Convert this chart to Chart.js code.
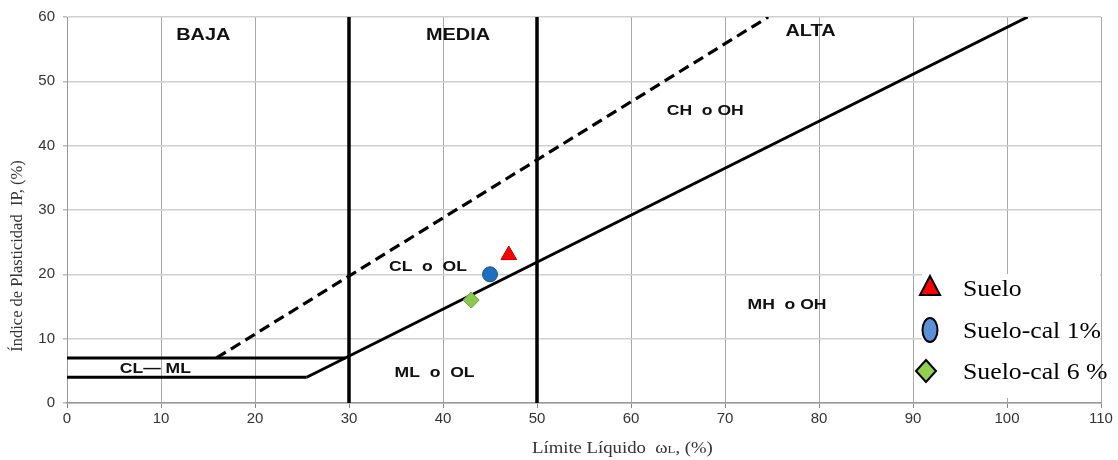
<!DOCTYPE html>
<html>
<head>
<meta charset="utf-8">
<script src="https://cdn.jsdelivr.net/npm/chart.js@4"></script>
<style>
  html, body { margin: 0; padding: 0; background: #fff; }
  #wrap { width: 1118px; height: 460px; }
</style>
</head>
<body>
<div id="wrap"><canvas id="carta"></canvas></div>
<script>
// Ejes
const xTicks = [0, 10, 20, 30, 40, 50, 60, 70, 80, 90, 100, 110];
const yTicks = [0, 10, 20, 30, 40, 50, 60];

// Líneas de la carta (extremos)
const lineaA = [{x: 25.5, y: 4}, {x: 102.2, y: 60}];
const lineaU = [{x: 15.9, y: 7}, {x: 74.6, y: 60}];
const linea7 = [{x: 0, y: 7}, {x: 29.6, y: 7}];
const linea4 = [{x: 0, y: 4}, {x: 25.5, y: 4}];
const limite30 = [{x: 30, y: 0}, {x: 30, y: 60}];
const limite50 = [{x: 50, y: 0}, {x: 50, y: 60}];

// Muestras
const muestras = ['Suelo', 'Suelo-cal 1%', 'Suelo-cal 6 %'];
const limiteLiquido = [47, 45, 43];
const indicePlasticidad = [23, 20, 16];

// Rótulos de zonas
const zonas = ['BAJA', 'MEDIA', 'ALTA', 'CH  o OH', 'CL  o  OL', 'MH  o OH', 'ML  o  OL', 'CL\u2014 ML'];
const zonasX = [14.5, 41.6, 79.1, 67.9, 38.4, 76.6, 39.1, 9.4];
const zonasY = [57.2, 57.2, 57.7, 45.4, 21.2, 15.2, 4.7, 5.3];
const zonasTam = [17, 17, 17, 15, 15, 15, 15, 15];

const SERIF = '"Liberation Serif", "Times New Roman", serif';
const SANS = '"Liberation Sans", Arial, sans-serif';
const ANCHO = 1.17; // letra algo ensanchada

const recta = (data, extra) => Object.assign({
  type: 'line', data, borderColor: '#000', borderWidth: 3,
  pointRadius: 0, fill: false, tension: 0, order: 2
}, extra || {});

const estilos = [
  {pointStyle: 'triangle', radius: 9, bg: '#ff0000', border: '#c00000'},
  {pointStyle: 'circle', radius: 7.5, bg: '#1f6fc0', border: '#1a4f8a'},
  {pointStyle: 'rectRot', radius: 8, bg: '#8cc850', border: '#6aa038'}
];

const puntos = muestras.map((m, i) => ({
  type: 'scatter',
  label: m,
  data: [{x: limiteLiquido[i], y: indicePlasticidad[i]}],
  pointStyle: estilos[i].pointStyle,
  pointRadius: estilos[i].radius,
  backgroundColor: estilos[i].bg,
  borderColor: estilos[i].border,
  borderWidth: 1,
  order: 1
}));

function texto(ctx, t, x, y, font, align, ancho) {
  ctx.save();
  ctx.translate(x, y);
  ctx.scale(ancho || ANCHO, 1);
  ctx.font = font;
  ctx.textAlign = align || 'center';
  ctx.fillText(t, 0, 0);
  ctx.restore();
}

// Leyenda, títulos y rótulos dibujados a mano
const rotulos = {
  id: 'rotulos',
  beforeDatasetsDraw(chart) {
    const ctx = chart.ctx;
    ctx.save();
    ctx.fillStyle = '#fff';
    ctx.fillRect(922, 274, 178, 124);
    ctx.restore();
  },
  afterDatasetsDraw(chart) {
    const ctx = chart.ctx;
    const sx = chart.scales.x, sy = chart.scales.y;
    ctx.save();
    ctx.fillStyle = '#111';
    ctx.textBaseline = 'middle';
    zonas.forEach((z, i) => {
      texto(ctx, z, sx.getPixelForValue(zonasX[i]), sy.getPixelForValue(zonasY[i]),
        'bold ' + zonasTam[i] + 'px ' + SANS);
    });

    // título eje Y
    ctx.fillStyle = '#333';
    ctx.save();
    ctx.translate(18, 256);
    ctx.rotate(-Math.PI / 2);
    ctx.font = '16.5px ' + SERIF;
    ctx.textAlign = 'center';
    ctx.fillText('Índice de Plasticidad  IP, (%)', 0, 0);
    ctx.restore();

    // título eje X con la L pequeña
    ctx.save();
    ctx.translate(532, 449);
    ctx.scale(ANCHO, 1);
    ctx.textAlign = 'left';
    let px = 0;
    const partes = [['Límite Líquido  ω', 16], ['L', 11], [', (%)', 16]];
    partes.forEach(([t, s]) => {
      ctx.font = s + 'px ' + SERIF;
      ctx.fillText(t, px, s === 11 ? 1 : 0);
      px += ctx.measureText(t).width;
    });
    ctx.restore();

    // leyenda
    const lx = 930, ly = [288, 330, 371];
    ctx.lineWidth = 2;
    ctx.strokeStyle = '#000';
    ctx.fillStyle = '#ff0000';
    ctx.beginPath();
    ctx.moveTo(lx, ly[0] - 12);
    ctx.lineTo(lx + 10, ly[0] + 7);
    ctx.lineTo(lx - 10, ly[0] + 7);
    ctx.closePath();
    ctx.fill(); ctx.stroke();
    ctx.fillStyle = '#5b8fd6';
    ctx.beginPath();
    ctx.ellipse(lx, ly[1], 7.5, 12, 0, 0, Math.PI * 2);
    ctx.fill(); ctx.stroke();
    ctx.fillStyle = '#92d050';
    ctx.beginPath();
    ctx.moveTo(lx - 4, ly[2] - 11);
    ctx.lineTo(lx + 6, ly[2]);
    ctx.lineTo(lx - 4, ly[2] + 11);
    ctx.lineTo(lx - 14, ly[2]);
    ctx.closePath();
    ctx.fill(); ctx.stroke();

    ctx.fillStyle = '#000';
    muestras.forEach((m, i) => texto(ctx, m, 963, ly[i] + 2, '23px ' + SERIF, 'left', 1.12));
    ctx.restore();
  }
};

new Chart(document.getElementById('carta'), {
  type: 'scatter',
  data: {
    datasets: [
      recta(lineaA),
      recta(lineaU, {borderDash: [11, 6], borderWidth: 3.2}),
      recta(linea7),
      recta(linea4),
      recta(limite30, {borderWidth: 3.5}),
      recta(limite50, {borderWidth: 3.5}),
      ...puntos
    ]
  },
  options: {
    responsive: true,
    maintainAspectRatio: false,
    animation: false,
    layout: {padding: {left: 0, right: 17, top: 17, bottom: 0}},
    plugins: {legend: {display: false}, tooltip: {enabled: false}},
    scales: {
      x: {
        type: 'linear', min: 0, max: 110,
        afterBuildTicks: s => { s.ticks = xTicks.map(v => ({value: v})); },
        afterFit: s => { s.height = 57; },
        grid: {color: '#a8a8a8', lineWidth: 1, tickLength: 5, tickColor: '#888'},
        border: {color: '#999', width: 1.5},
        ticks: {color: '#333', font: {family: SANS, size: 15}, padding: 2},
        title: {display: false}
      },
      y: {
        type: 'linear', min: 0, max: 60,
        afterBuildTicks: s => { s.ticks = yTicks.map(v => ({value: v})); },
        afterFit: s => { s.width = 67; },
        grid: {color: '#cfcfcf', lineWidth: 1.5, tickLength: 4, tickColor: '#bbb'},
        border: {color: '#999', width: 1},
        ticks: {color: '#333', font: {family: SANS, size: 15}, padding: 8},
        title: {display: false}
      }
    }
  },
  plugins: [rotulos]
});
</script>
</body>
</html>
